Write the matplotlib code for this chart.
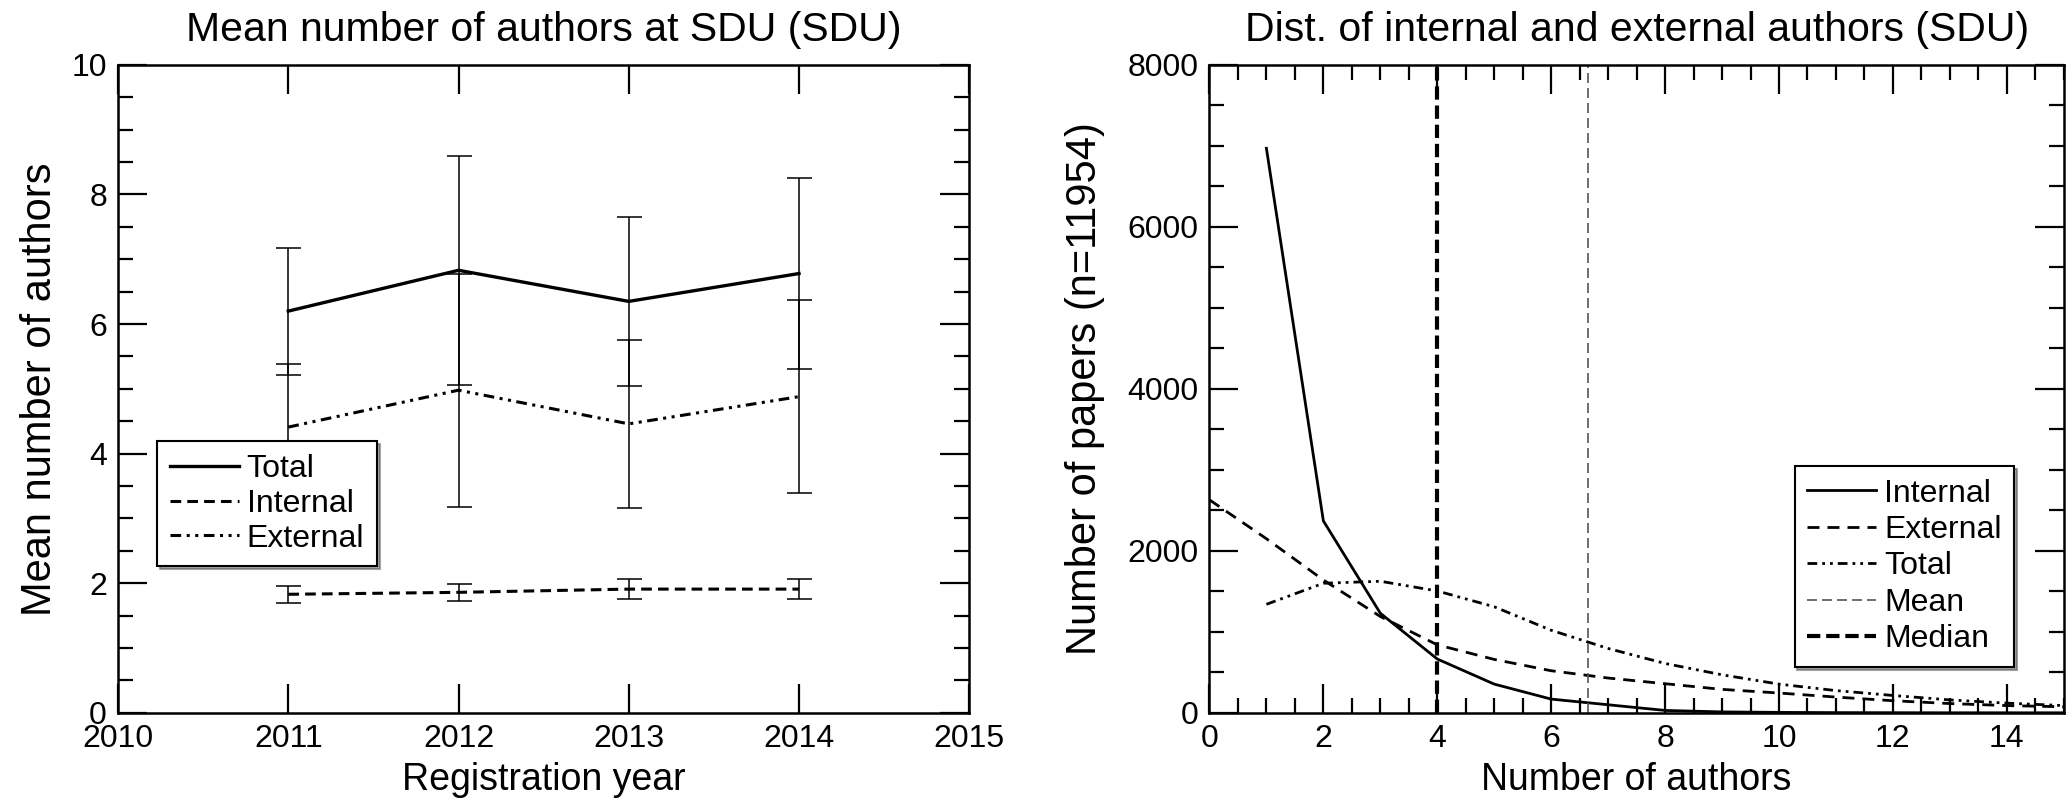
import matplotlib
matplotlib.use("Agg")
import matplotlib.pyplot as plt
from matplotlib.ticker import MultipleLocator

plt.rcParams['font.family'] = ['Liberation Sans', 'DejaVu Sans']

TICK_SIZE = 23
XLABEL_SIZE = 27
YLABEL_SIZE = 30
TITLE_SIZE = 29.5
LEGEND_SIZE = 23

# left panel: mean number of authors per registration year
years = [2011, 2012, 2013, 2014]
total_mean = [6.20, 6.83, 6.35, 6.78]
total_err = [0.98, 1.77, 1.31, 1.48]
internal_mean = [1.83, 1.86, 1.91, 1.91]
internal_err = [0.13, 0.13, 0.15, 0.15]
external_mean = [4.41, 4.98, 4.46, 4.88]
external_err = [0.97, 1.80, 1.30, 1.49]

# right panel: distribution of number of authors
n_internal = [1, 2, 3, 4, 5, 6, 7, 8, 9, 10, 11, 12, 13, 14, 15]
internal_counts = [6970, 2370, 1230, 665, 355, 170, 100, 30, 12, 6, 3, 2, 1, 1, 0]
n_external = [0, 1, 2, 3, 4, 5, 6, 7, 8, 9, 10, 11, 12, 13, 14, 15]
external_counts = [2630, 2150, 1640, 1190, 840, 660, 520, 430, 360, 290, 245, 195, 150, 115, 90, 75]
n_total = [1, 2, 3, 4, 5, 6, 7, 8, 9, 10, 11, 12, 13, 14, 15]
total_counts = [1340, 1600, 1625, 1505, 1310, 1020, 795, 610, 470, 355, 275, 215, 160, 120, 90]
mean_authors = 6.65
median_authors = 4

dashdotdot = (0, (3.5, 1.8, 1, 1.8, 1, 1.8))

fig = plt.figure(figsize=(20.71, 8.11), dpi=100)
ax1 = fig.add_axes([0.057, 0.121, 0.411, 0.799])
ax2 = fig.add_axes([0.584, 0.121, 0.4125, 0.799])

# ---- left panel
ax1.errorbar(years, total_mean, yerr=total_err, color='black', lw=2.4, ls='-',
             ecolor='black', elinewidth=1.1, capsize=9, capthick=1.1, label='Total')
ax1.errorbar(years, internal_mean, yerr=internal_err, color='black', lw=2.2,
             ls=(0, (3.5, 2)), ecolor='black', elinewidth=1.1, capsize=9,
             capthick=1.1, label='Internal')
ax1.errorbar(years, external_mean, yerr=external_err, color='black', lw=2.2,
             ls=dashdotdot, ecolor='black', elinewidth=1.1, capsize=9,
             capthick=1.1, label='External')
ax1.set_xlim(2010, 2015)
ax1.set_ylim(0, 10)
ax1.xaxis.set_major_locator(MultipleLocator(1))
ax1.yaxis.set_major_locator(MultipleLocator(2))
ax1.yaxis.set_minor_locator(MultipleLocator(0.5))
ax1.set_xlabel('Registration year', fontsize=XLABEL_SIZE, labelpad=6)
ax1.set_ylabel('Mean number of authors', fontsize=YLABEL_SIZE, labelpad=8)
ax1.set_title('Mean number of authors at SDU (SDU)', fontsize=TITLE_SIZE, pad=17)
h, l = ax1.get_legend_handles_labels()
h = [x[0] for x in h]
leg1 = ax1.legend(h, l, loc='lower left', bbox_to_anchor=(0.046, 0.226),
                  fontsize=LEGEND_SIZE, frameon=True, fancybox=False, shadow=True,
                  edgecolor='black', framealpha=1, borderpad=0.4,
                  labelspacing=0.15, handlelength=2.15, handletextpad=0.25,
                  borderaxespad=0)
leg1.get_frame().set_linewidth(1.5)

# ---- right panel
ax2.plot(n_internal, internal_counts, color='black', lw=2, ls='-', label='Internal')
ax2.plot(n_external, external_counts, color='black', lw=2, ls=(0, (4.3, 2.9)),
         label='External')
ax2.plot(n_total, total_counts, color='black', lw=2, ls=dashdotdot, label='Total')
ax2.axvline(mean_authors, color='#555555', lw=1.2, ls=(0, (6, 3)), label='Mean')
ax2.axvline(median_authors, color='black', lw=3, ls=(0, (3.2, 1.4)), label='Median')
ax2.set_xlim(0, 15)
ax2.set_ylim(0, 8000)
ax2.xaxis.set_major_locator(MultipleLocator(2))
ax2.xaxis.set_minor_locator(MultipleLocator(0.5))
ax2.yaxis.set_major_locator(MultipleLocator(2000))
ax2.yaxis.set_minor_locator(MultipleLocator(500))
ax2.set_xlabel('Number of authors', fontsize=XLABEL_SIZE, labelpad=6)
ax2.set_ylabel('Number of papers (n=11954)', fontsize=YLABEL_SIZE, labelpad=16)
ax2.set_title('Dist. of internal and external authors (SDU)', fontsize=TITLE_SIZE, pad=17)
leg2 = ax2.legend(loc='lower left', bbox_to_anchor=(0.685, 0.071),
                  fontsize=LEGEND_SIZE, frameon=True, fancybox=False, shadow=True,
                  edgecolor='black', framealpha=1, borderpad=0.4,
                  labelspacing=0.2, handlelength=2.15, handletextpad=0.25,
                  borderaxespad=0)
leg2.get_frame().set_linewidth(1.5)

for ax in (ax1, ax2):
    for s in ax.spines.values():
        s.set_linewidth(1.8)
    ax.tick_params(which='both', direction='in', top=True, right=True,
                   labelsize=TICK_SIZE, width=1.6)
    ax.tick_params(which='major', length=21, pad=8)
    ax.tick_params(which='minor', length=11)

fig.savefig('out.png', dpi=100)
